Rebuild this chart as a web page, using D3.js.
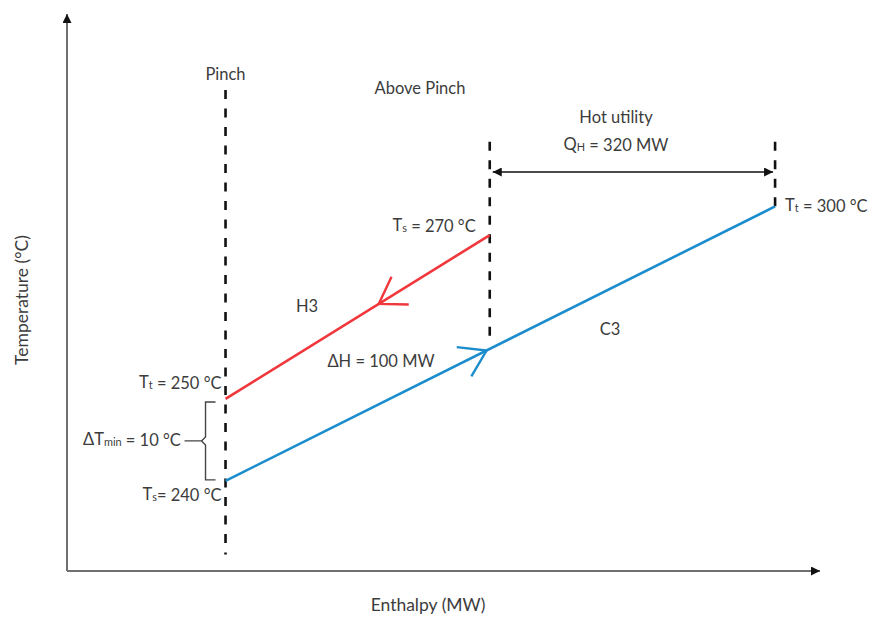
<!DOCTYPE html>
<html><head><meta charset="utf-8">
<script src="https://cdn.jsdelivr.net/npm/d3@7"></script>
<style>
html,body{margin:0;padding:0;background:#fff;}
text{font-family:Lato,"Open Sans",sans-serif;fill:#3c3c3c;}
</style></head>
<body>
<svg id="c" width="871" height="619"></svg>
<script>
// Diagram data (enthalpy in diagram units, temperature in °C scale units)
const enthalpyDomain = [-60, 225];
const temperatureDomain = [229, 296.5];
const hotStream = [{h: 100, t: 270}, {h: 0, t: 250}];      // H3, flows from Ts to Tt
const coldStream = [{h: 0, t: 240}, {h: 208, t: 273.5}];   // C3, flows from Ts to Tt
const pinchH = 0;
const pinchSpan = [287.7, 231];
const hotEndH = 100;
const hotUtilityH = [100, 208];
const hotUtilityLevel = 277.7;
const hotEndDashSpan = [281.4, 256.6];
const coldEndDashSpan = [281.4, 273.5];
const axisLabels = {x: "Enthalpy (MW)", y: "Temperature (°C)"};

const svg = d3.select("#c");
const x = d3.scaleLinear().domain(enthalpyDomain).range([67, 820]);
const y = d3.scaleLinear().domain(temperatureDomain).range([571, 18]);

const defs = svg.append("defs");
function marker(id, color, w, h) {
  defs.append("marker").attr("id", id).attr("viewBox", "0 0 10 10")
    .attr("refX", 10).attr("refY", 5).attr("markerWidth", w).attr("markerHeight", h)
    .attr("markerUnits", "userSpaceOnUse").attr("orient", "auto-start-reverse")
    .append("path").attr("d", "M0,0 L10,5 L0,10 Z").attr("fill", color);
}
marker("axArr", "#111", 10, 9);
marker("dblArr", "#111", 11, 9);

// axes
const xr = x.range(), yr = y.range();
svg.append("line").attr("x1", xr[0]).attr("y1", yr[0]).attr("x2", xr[1]).attr("y2", yr[0])
  .attr("stroke", "#707070").attr("stroke-width", 2).attr("marker-end", "url(#axArr)");
svg.append("line").attr("x1", xr[0]).attr("y1", yr[0]).attr("x2", xr[0]).attr("y2", yr[1] - 4)
  .attr("stroke", "#707070").attr("stroke-width", 2).attr("marker-end", "url(#axArr)");

svg.append("text").attr("x", 428).attr("y", 611).attr("text-anchor", "middle")
  .attr("font-size", 17.5).text(axisLabels.x);
svg.append("text").attr("transform", "translate(28,300) rotate(-90)").attr("text-anchor", "middle")
  .attr("font-size", 17.5).text(axisLabels.y);

// dashed vertical lines
function vdash(h, span) {
  svg.append("line").attr("x1", x(h)).attr("x2", x(h)).attr("y1", y(span[0])).attr("y2", y(span[1]))
    .attr("stroke", "#111").attr("stroke-width", 2.6).attr("stroke-dasharray", "9,9.5");
}
vdash(pinchH, pinchSpan);
vdash(hotEndH, hotEndDashSpan);
vdash(hotUtilityH[1], coldEndDashSpan);

// hot utility double arrow
svg.append("line").attr("x1", x(hotUtilityH[0]) + 3).attr("x2", x(hotUtilityH[1]) - 2)
  .attr("y1", y(hotUtilityLevel)).attr("y2", y(hotUtilityLevel))
  .attr("stroke", "#111").attr("stroke-width", 1.6)
  .attr("marker-start", "url(#dblArr)").attr("marker-end", "url(#dblArr)");

// streams
const line = d3.line().x(d => x(d.h)).y(d => y(d.t));
function stream(data, color, frac) {
  svg.append("path").datum(data).attr("d", line).attr("fill", "none")
    .attr("stroke", color).attr("stroke-width", 2.6);
  const x0 = x(data[0].h), y0 = y(data[0].t), x1 = x(data[1].h), y1 = y(data[1].t);
  const tx = x0 + (x1 - x0) * frac, ty = y0 + (y1 - y0) * frac;
  const ang = Math.atan2(y0 - y1, x0 - x1); // back direction
  const L = 30, a = 33 * Math.PI / 180;
  const p = d3.path();
  p.moveTo(tx + L * Math.cos(ang + a), ty + L * Math.sin(ang + a));
  p.lineTo(tx, ty);
  p.lineTo(tx + L * Math.cos(ang - a), ty + L * Math.sin(ang - a));
  svg.append("path").attr("d", p.toString()).attr("fill", "none")
    .attr("stroke", color).attr("stroke-width", 2.4).attr("stroke-linejoin", "miter");
}
stream(hotStream, "#f0373c", 0.42);
stream(coldStream, "#1b8ccc", 0.475);

// bracket for ΔTmin
const bx = x(pinchH) - 20, bTop = y(250) + 3, bBot = y(240) - 1, bMid = (bTop + bBot) / 2;
svg.append("path")
  .attr("d", `M${bx + 10},${bTop} L${bx},${bTop} L${bx},${bMid - 4} L${bx - 4},${bMid} L${bx},${bMid + 4} L${bx},${bBot} L${bx + 10},${bBot} M${bx - 4},${bMid} L${bx - 21},${bMid}`)
  .attr("fill", "none").attr("stroke", "#444").attr("stroke-width", 1.4);

// labels
function label(px, py, anchor, parts, size) {
  const t = svg.append("text").attr("x", px).attr("y", py).attr("text-anchor", anchor)
    .attr("font-size", size || 16.5);
  parts.forEach(pt => {
    if (typeof pt === "string") t.append("tspan").text(pt);
    else t.append("tspan").attr("font-size", "0.66em").attr("dy", pt.dy).text(pt.s);
  });
  return t;
}
label(x(pinchH), 80, "middle", ["Pinch"]);
label(420, 94, "middle", ["Above Pinch"]);
label(616, 123, "middle", ["Hot utility"]);
label(616, 150, "middle", ["Q", {s: "H", dy: 1}, {s: "", dy: -1}, " = 320 MW"]);
label(x(hotStream[0].h) - 14, y(hotStream[0].t) - 4, "end", ["T", {s: "s", dy: 1}, {s: "", dy: -1}, " = 270 °C"]);
label(x(coldStream[1].h) + 10, y(coldStream[1].t) + 5, "start", ["T", {s: "t", dy: 1}, {s: "", dy: -1}, " = 300 °C"]);
label(x(pinchH) - 4, y(250) - 11, "end", ["T", {s: "t", dy: 1}, {s: "", dy: -1}, " = 250 °C"]);
label(x(pinchH) - 4, y(240) + 19, "end", ["T", {s: "s", dy: 1}, {s: "", dy: -1}, "= 240 °C"]);
label(83, 445, "start", ["ΔT", {s: "min", dy: 1}, {s: "", dy: -1}, " = 10 °C"]);
label(307, 312, "middle", ["H3"]);
label(610, 335, "middle", ["C3"]);
label(381, 367, "middle", ["ΔH = 100 MW"]);
</script>
</body></html>
